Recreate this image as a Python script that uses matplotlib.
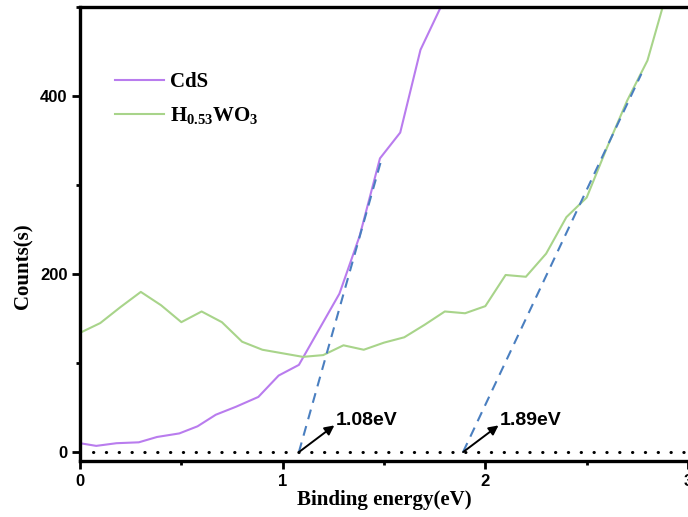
import matplotlib
matplotlib.use('Agg')
from matplotlib import pyplot as plt
from matplotlib.ticker import MultipleLocator

plt.rcParams['mathtext.fontset'] = 'custom'
plt.rcParams['mathtext.rm'] = 'Liberation Serif:bold'
plt.rcParams['mathtext.it'] = 'Liberation Serif:italic:bold'
plt.rcParams['mathtext.bf'] = 'Liberation Serif:bold'

# CdS curve
cds_x = [0, 0.08, 0.18, 0.29, 0.38, 0.49, 0.58, 0.67, 0.77, 0.88, 0.98,
         1.08, 1.18, 1.28, 1.38, 1.48, 1.58, 1.68, 1.78]
cds_y = [10, 7, 10, 11, 17, 21, 29, 42, 51, 62, 86,
         98, 138, 178, 243, 330, 359, 452, 500]

# H0.53WO3 curve
hwo_x = [0, 0.1, 0.2, 0.3, 0.4, 0.5, 0.6, 0.7, 0.8, 0.9,
         1.0, 1.1, 1.2, 1.3, 1.4, 1.5, 1.6, 1.7, 1.8, 1.9,
         2.0, 2.1, 2.2, 2.3, 2.4, 2.5, 2.6, 2.7, 2.8, 2.875]
hwo_y = [134, 145, 163, 180, 165, 146, 158, 146, 124, 115,
         111, 107, 109, 120, 115, 123, 129, 143, 158, 156,
         164, 199, 197, 223, 264, 286, 342, 395, 440, 500]

# tangent lines (start at band gap, end point on the curve)
gaps = [1.08, 1.89]
tangent_end_x = [1.49, 2.77]
tangent_end_y = [331, 425]
gap_labels = ['1.08eV', '1.89eV']

purple = '#B97CEE'
green = '#A8D48A'
blue = '#4A7FC0'

fig = plt.figure(figsize=(6.88, 5.17), dpi=100)
ax = fig.add_axes([0.1163, 0.1083, 0.8837, 0.878])

ax.plot(cds_x, cds_y, color=purple, lw=1.5, label='CdS')
ax.plot(hwo_x, hwo_y, color=green, lw=1.5, label=r'H$_{0.53}$WO$_3$')

for g, ex, ey in zip(gaps, tangent_end_x, tangent_end_y):
    ax.plot([g, ex], [0, ey], color=blue, lw=1.5, dashes=(4.8, 3.4))

# baseline
ax.plot([0.063, 3], [0, 0], color='black', lw=2.2, dashes=(0.1, 4.1),
        dash_capstyle='round')

for g, lab in zip(gaps, gap_labels):
    ax.annotate('', xy=(g + 0.175, 30), xytext=(g, 0),
                arrowprops=dict(arrowstyle='-|>', color='black', lw=1.4,
                                mutation_scale=14, shrinkA=0, shrinkB=0))
    ax.text(g + 0.182, 36, lab, fontsize=14, fontweight='bold',
            family='Liberation Sans', ha='left', va='center')

ax.set_xlim(0, 3)
ax.set_ylim(-10, 500)
ax.xaxis.set_major_locator(MultipleLocator(1))
ax.xaxis.set_minor_locator(MultipleLocator(0.5))
ax.yaxis.set_major_locator(MultipleLocator(200))
ax.yaxis.set_minor_locator(MultipleLocator(100))

ax.spines['right'].set_visible(False)
for s in ['left', 'bottom', 'top']:
    ax.spines[s].set_linewidth(2.4)
ax.tick_params(which='major', direction='out', length=5.5, width=2,
               pad=3.5, labelsize=12)
ax.tick_params(which='minor', direction='out', length=3.2, width=2)
for lab in ax.get_xticklabels() + ax.get_yticklabels():
    lab.set_fontfamily('Liberation Sans')
    lab.set_fontweight('bold')

ax.set_xlabel('Binding energy(eV)', fontsize=15, fontweight='bold',
              family='Liberation Serif', labelpad=1)
ax.set_ylabel('Counts(s)', fontsize=15, fontweight='bold',
              family='Liberation Serif')
ax.yaxis.set_label_coords(-0.076, 0.43)

ax.legend(loc='upper left', bbox_to_anchor=(0.057, 0.856), frameon=False,
          borderpad=0, borderaxespad=0, handlelength=2.35,
          handletextpad=0.3, labelspacing=0.6,
          prop={'family': 'Liberation Serif', 'weight': 'bold', 'size': 15})

fig.savefig('out.png', dpi=100)
